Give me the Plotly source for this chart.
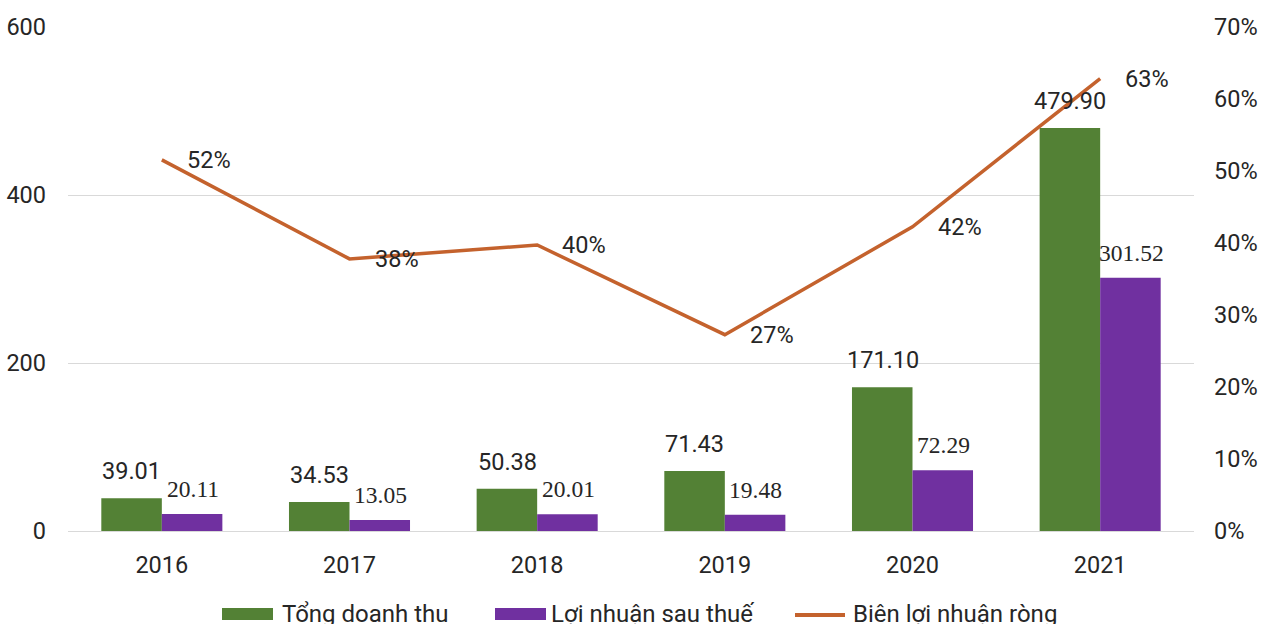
import plotly.graph_objects as go

years = ["2016", "2017", "2018", "2019", "2020", "2021"]
revenue = [39.01, 34.53, 50.38, 71.43, 171.10, 479.90]
profit = [20.11, 13.05, 20.01, 19.48, 72.29, 301.52]
margin = [51.55, 37.79, 39.72, 27.27, 42.25, 62.83]

name_rev = "Tổng doanh thu"
name_profit = "Lợi nhuận sau thuế"
name_margin = "Biên lợi nhuận ròng"

GREEN = "#538135"
PURPLE = "#7030A0"
ORANGE = "#C4622D"
TXT = "#262626"
FS = 23.5

W, H = 1272, 624
L, R, T, B = 68, 78, 27, 93
PW = W - L - R
PH = H - T - B

fig = go.Figure()
fig.add_trace(go.Bar(x=years, y=revenue, name=name_rev, marker=dict(color=GREEN, line=dict(width=0)), showlegend=False))
fig.add_trace(go.Bar(x=years, y=profit, name=name_profit, marker=dict(color=PURPLE, line=dict(width=0)), showlegend=False))
fig.add_trace(go.Scatter(x=years, y=margin, name=name_margin, mode="lines", yaxis="y2",
                         line=dict(color=ORANGE, width=3.5), showlegend=False))

ann = []
for i, v in enumerate(revenue):
    ann.append(dict(x=i, y=v, xref="x", yref="y", text=f"{v:.2f}", showarrow=False,
                    xshift=-30, yshift=11, yanchor="bottom",
                    font=dict(family="Roboto", size=FS, color=TXT)))
for i, v in enumerate(profit):
    ann.append(dict(x=i, y=v, xref="x", yref="y", text=f"{v:.2f}", showarrow=False,
                    xshift=31, yshift=10, yanchor="bottom",
                    font=dict(family="Liberation Serif", size=FS, color=TXT)))
for i, v in enumerate(margin):
    ann.append(dict(x=i, y=v, xref="x", yref="y2", text=f"{v:.0f}%", showarrow=False,
                    xshift=23, xanchor="left", yanchor="middle",
                    font=dict(family="Roboto", size=FS, color=TXT)))

def px_x(p):
    return (p - L) / PW

def px_y(p):
    return (H - B - p) / PH

shapes = []
leg_y = 614
items = [(222, 280, name_rev, GREEN, "rect"), (495, 549, name_profit, PURPLE, "rect"), (795, 851, name_margin, ORANGE, "line")]
for sx, tx, nm, col, kind in items:
    if kind == "rect":
        shapes.append(dict(type="rect", xref="paper", yref="paper", x0=px_x(sx), x1=px_x(sx + 51),
                           y0=px_y(leg_y + 6), y1=px_y(leg_y - 6), fillcolor=col, line=dict(width=0)))
    else:
        shapes.append(dict(type="line", xref="paper", yref="paper", x0=px_x(sx), x1=px_x(sx + 50),
                           y0=px_y(leg_y + 1), y1=px_y(leg_y + 1), line=dict(color=col, width=4)))
    ann.append(dict(x=px_x(tx), y=px_y(leg_y), xref="paper", yref="paper", text=nm, showarrow=False,
                    xanchor="left", yanchor="middle", font=dict(family="Roboto", size=24, color=TXT)))

fig.update_layout(
    width=W, height=H,
    margin=dict(l=L, r=R, t=T, b=B, autoexpand=False),
    paper_bgcolor="white", plot_bgcolor="white",
    showlegend=False,
    barmode="group", bargap=0.355, bargroupgap=0,
    font=dict(family="Roboto", size=FS, color=TXT),
    xaxis=dict(type="category", range=[-0.5, 5.5], automargin=False, showgrid=False, showline=False, ticks="",
               ticklabelstandoff=17, tickfont=dict(family="Roboto", size=FS, color=TXT)),
    yaxis=dict(range=[0, 600], dtick=200, automargin=False, showgrid=True, gridcolor="#D9D9D9", gridwidth=1,
               zeroline=True, zerolinecolor="#D9D9D9", zerolinewidth=1, showline=False, ticks="",
               ticklabelstandoff=21, tickfont=dict(family="Roboto", size=FS, color=TXT)),
    yaxis2=dict(range=[0, 70], dtick=10, overlaying="y", side="right", automargin=False, showgrid=False,
                zeroline=False, showline=False, ticks="", ticksuffix="%", ticklabelstandoff=19,
                tickfont=dict(family="Roboto", size=FS, color=TXT)),
    annotations=ann, shapes=shapes,
)

fig.write_html("out.html")
